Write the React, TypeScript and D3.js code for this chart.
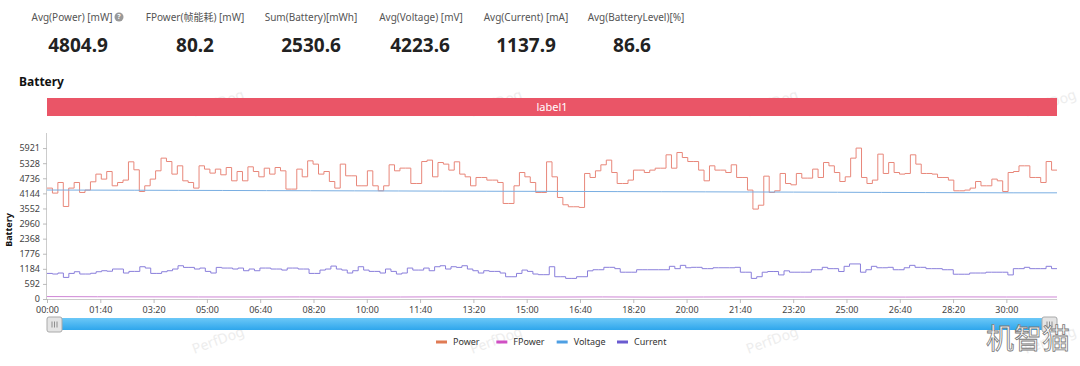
import * as d3 from "d3";
import { useRef, useEffect } from "react";

// header stats
const statLabels = ["Avg(Power) [mW]", "FPower(帧能耗) [mW]", "Sum(Battery)[mWh]", "Avg(Voltage) [mV]", "Avg(Current) [mA]", "Avg(BatteryLevel)[%]"];
const statValues = ["4804.9", "80.2", "2530.6", "4223.6", "1137.9", "86.6"];

// axes
const yTickValues = [0, 592, 1184, 1776, 2368, 2960, 3552, 4144, 4736, 5328, 5921];
const yMax = 6513;
const duration = 1895; // seconds covered by the samples
const xTickStep = 100;

const seriesNames = ["Power", "FPower", "Voltage", "Current"];

// Power [mW], one sample per step
const powerValues = [
  4351, 4155, 4571, 3630, 4351, 4571, 4180, 4273, 4598, 4900, 4704, 5002, 4441, 4571, 4665, 5382, 5069, 4218, 4441, 4704,
  5029, 5527, 5394, 4900, 5225, 4637, 4571, 4351, 5225, 5096, 4939, 5096, 4873, 5159, 4637, 5002, 4637, 5186, 5002, 4794,
  5133, 4900, 5159, 5029, 4312, 4312, 5096, 4794, 5421, 5292, 4900, 5002, 4610, 4351, 5292, 4833, 4833, 4441, 4441,
  5029, 4441, 4245, 4441, 5265, 5029, 5135, 5135, 4532, 4532, 5394, 5449, 4794, 5355, 5292, 5057, 5382, 4900, 4794, 4441,
  4768, 4768, 4665, 4665, 4571, 3748, 3748, 4441, 4963, 4794, 4571, 4180, 4180, 5382, 4794, 3983, 3697, 3619, 3619, 3592,
  4925, 4768, 5029, 5265, 5449, 4963, 4532, 4532, 4665, 5057, 5057, 4963, 5057, 5133, 5133, 5657, 5133, 5747, 5551, 5394,
  5394, 5057, 4637,
  5225, 5057, 5057, 4963, 5265, 4768, 4768, 4273, 3528, 3680, 4820, 4180, 4245, 4925, 4532, 4480, 4925, 4743, 4743, 5096,
  4768, 5355, 5225, 4963, 4610, 4794, 5527, 5921, 4768, 4532, 4665, 5684, 4925, 5355, 4963, 4900, 4925, 5657, 5292, 4925,
  4925, 4900, 4768, 4768, 4665, 4245, 4245, 4273, 4351, 4610, 4441, 4441, 4704, 4637, 4218, 4963, 5002, 5225, 5225, 4768,
  4768, 4571, 5394, 5057,
];

// FPower [mW]
const fpowerValues = [96, 88, 84, 80, 78, 82, 76, 79, 85, 80, 77, 81, 74, 79, 83, 78, 80, 76, 82, 79];

// Voltage [mV]
const voltageValues = [4276, 4272, 4268, 4262, 4258, 4252, 4248, 4243, 4238, 4233, 4228, 4224, 4219, 4214, 4209, 4204, 4199, 4194, 4188, 4182, 4176, 4170, 4166];

// Current [mA]
const currentValues = [
  1004, 980, 1019, 847, 1004, 1070, 980, 980, 1010, 1070, 1109, 1090, 1176, 1176, 1019, 1083, 1083, 1266, 1214, 1004,
  1004, 1070, 1109, 1176, 1305, 1240, 1240, 1176, 1214, 1083, 1019, 1240, 1214, 1214, 1176, 1214, 1109, 1176, 1109, 1214,
  1214, 1176, 1176, 1135, 1214, 1214, 1176, 1176, 1004, 1004, 1135, 1176, 1292, 1176, 1135, 1019, 1109, 1266, 1135, 1083,
  1083, 1019, 1176, 1083, 980, 1019, 1214, 1135, 1135, 1214, 1109, 1266, 1305, 1176, 1266, 1240, 1305, 1176, 1109, 1019,
  1109, 1083, 1083, 1019, 873, 873, 1004, 1135, 1083, 980, 954, 954, 1266,
  874, 874, 808, 808, 874, 874, 1105, 1148, 1148, 1243, 1243, 1190, 1051, 1051, 1051, 1148, 1148, 1148, 1148, 1148,
  1148, 1282, 1190, 1320, 1226, 1243, 1243, 1190, 1190, 1226, 1226, 1226, 1226, 1243, 1051, 1051, 808, 874, 1051, 1078,
  1078, 945, 1105, 1051, 1051, 1051, 1051, 1148, 1148, 1243, 1190, 1190, 1078, 1282, 1376, 1376, 1051, 1148, 1282, 1226,
  1226, 1243, 1148, 1148, 1226, 1320, 1243, 1243, 1190, 1190, 1190, 1148, 1148, 972, 972, 972, 1019, 1019, 1019, 1051,
  1051, 1051, 1051, 945, 1190, 1190, 1243, 1190, 1190, 1190, 1282, 1190,
];

function toPoints(values) {
  const step = duration / values.length;
  const pts = values.map((v, i) => ({ t: i * step, v }));
  pts.push({ t: duration, v: values[values.length - 1] });
  return pts;
}

function fmtTime(s) {
  const m = Math.floor(s / 60), r = Math.round(s % 60);
  return String(m).padStart(2, "0") + ":" + String(r).padStart(2, "0");
}

export default function App() {
  const ref = useRef(null);
  const width = 1080, height = 366;
  const margin = { left: 47, right: 23, top: 133, bottom: 67 };

  useEffect(() => {
    const svg = d3.select(ref.current);
    svg.selectAll("*").remove();
    const font = "'Noto Sans', 'Noto Sans CJK SC', sans-serif";
    svg.style("font-family", font);

    const x = d3.scaleLinear().domain([0, duration]).range([margin.left, width - margin.right]);
    const y = d3.scaleLinear().domain([0, yMax]).range([height - margin.bottom, margin.top]);

    // watermarks
    const wm = svg.append("g").attr("fill", "#ededed").style("font-size", "14px");
    [218, 496, 772, 1050].forEach((cx) => {
      [103, 340].forEach((cy) => {
        wm.append("text").attr("text-anchor", "middle")
          .attr("transform", `translate(${cx},${cy}) rotate(-20)`).attr("dy", "0.35em").text("PerfDog");
      });
    });

    // header stats
    const labelCols = [72, 195, 311, 421, 526, 636];
    const valueCols = [78, 195, 311, 420, 526, 632];
    statLabels.forEach((lab, i) => {
      svg.append("text").attr("x", labelCols[i]).attr("y", 21)
        .attr("text-anchor", "middle").attr("fill", "#555").style("font-size", "10px").text(lab);
      svg.append("text").attr("x", valueCols[i]).attr("y", 52)
        .attr("text-anchor", "middle").attr("fill", "#222").style("font-size", "19px").style("font-weight", "bold")
        .text(statValues[i]);
    });
    // help icon
    const help = svg.append("g").attr("transform", "translate(119,17)");
    help.append("circle").attr("r", 4.5).attr("fill", "#999");
    help.append("text").attr("text-anchor", "middle").attr("dy", "0.35em").attr("fill", "#fff")
      .style("font-size", "7px").style("font-weight", "bold").text("?");

    // title
    svg.append("text").attr("x", 19).attr("y", 86).attr("fill", "#111")
      .style("font-size", "12px").style("font-weight", "bold").text("Battery");

    // label bar
    svg.append("rect").attr("x", margin.left).attr("y", 98).attr("width", width - margin.right - margin.left)
      .attr("height", 18).attr("fill", "#ea5567");
    svg.append("text").attr("x", (margin.left + width - margin.right) / 2).attr("y", 111)
      .attr("text-anchor", "middle").attr("fill", "#fff").style("font-size", "11px").text("label1");

    // y axis
    const yAxis = d3.axisLeft(y).tickValues(yTickValues).tickSize(4).tickPadding(3)
      .tickFormat((d) => String(d));
    const gy = svg.append("g").attr("transform", `translate(${margin.left},0)`).call(yAxis);
    gy.select(".domain").attr("stroke", "#ccc").attr("d", `M-0.5,${margin.top}V${height - margin.bottom}`);
    gy.selectAll(".tick line").attr("stroke", "#bbb");
    gy.selectAll(".tick text").attr("fill", "#444").style("font-size", "9px").style("font-family", font);

    svg.append("text").attr("transform", `translate(12,${230}) rotate(-90)`).attr("text-anchor", "middle")
      .attr("fill", "#111").style("font-size", "9px").style("font-weight", "bold").text("Battery");

    // x axis
    const xAxis = d3.axisBottom(x).tickValues(d3.range(0, duration, xTickStep)).tickSize(4).tickPadding(4)
      .tickFormat((d) => fmtTime(d));
    const gx = svg.append("g").attr("transform", `translate(0,${height - margin.bottom})`).call(xAxis);
    gx.select(".domain").attr("stroke", "#ccc").attr("d", `M${margin.left},0.5H${width - margin.right}`);
    gx.selectAll(".tick line").attr("stroke", "#bbb");
    gx.selectAll(".tick text").attr("fill", "#444").style("font-size", "9px").style("font-family", font);

    // series
    const step = d3.line().x((d) => x(d.t)).y((d) => y(d.v)).curve(d3.curveStepAfter);
    const lin = d3.line().x((d) => x(d.t)).y((d) => y(d.v));
    const lines = [
      { pts: toPoints(powerValues), gen: step, color: "#e8877a" },
      { pts: toPoints(fpowerValues), gen: lin, color: "#cf86d6" },
      { pts: toPoints(voltageValues), gen: lin, color: "#79aee2" },
      { pts: toPoints(currentValues), gen: step, color: "#8a7fdb" },
    ];
    lines.forEach((s) => {
      svg.append("path").datum(s.pts).attr("fill", "none").attr("stroke", s.color)
        .attr("stroke-width", 1).attr("d", s.gen);
    });

    // data zoom slider
    const defs = svg.append("defs");
    const grad = defs.append("linearGradient").attr("id", "sl").attr("x1", 0).attr("x2", 0).attr("y1", 0).attr("y2", 1);
    grad.append("stop").attr("offset", "0").attr("stop-color", "#6cc8f7");
    grad.append("stop").attr("offset", "1").attr("stop-color", "#2ea6ec");
    svg.append("rect").attr("x", margin.left).attr("y", 318).attr("width", width - margin.right - margin.left)
      .attr("height", 12).attr("fill", "url(#sl)");
    [margin.left, width - margin.right - 15].forEach((hx) => {
      const h = svg.append("g").attr("transform", `translate(${hx},317)`);
      h.append("rect").attr("width", 15).attr("height", 15).attr("rx", 2).attr("fill", "#e4e4e4").attr("stroke", "#aaa");
      [5, 7.5, 10].forEach((lx) => h.append("line").attr("x1", lx).attr("x2", lx).attr("y1", 4.5).attr("y2", 10.5)
        .attr("stroke", "#777").attr("stroke-width", 0.8));
    });

    // legend
    const legendColors = ["#e07b54", "#d04fc3", "#4e9fe3", "#6a5bd0"];
    const legendX = d3.scalePoint().domain(seriesNames).range([436, 617]);
    seriesNames.forEach((n, i) => {
      const g = svg.append("g").attr("transform", `translate(${legendX(n)},342)`);
      g.append("rect").attr("x", 0).attr("y", -1.5).attr("width", 11).attr("height", 3).attr("fill", legendColors[i]);
      g.append("text").attr("x", 17).attr("dy", "0.35em").attr("fill", "#333").style("font-size", "9px").text(n);
    });

    // corner watermark
    svg.append("text").attr("x", 986).attr("y", 349).attr("fill", "#fff").attr("stroke", "#777")
      .attr("stroke-width", 0.8).style("font-size", "28px").style("font-family", "'Noto Sans CJK SC', sans-serif")
      .text("机智猫");
  }, []);

  return (
    <svg ref={ref} width={width} height={height}
      style={{ position: "absolute", left: 0, top: 0, background: "#fff" }} />
  );
}
